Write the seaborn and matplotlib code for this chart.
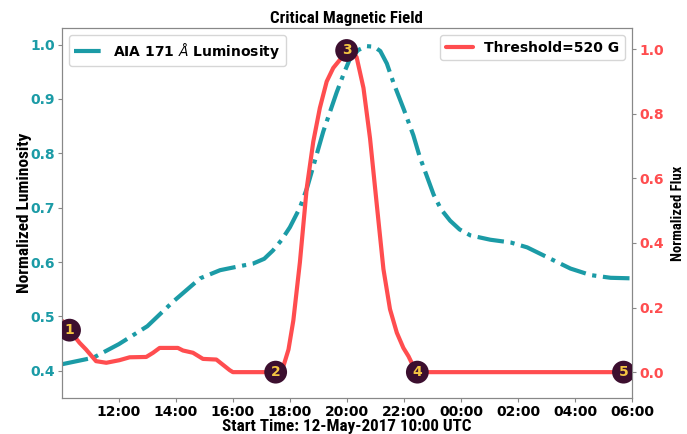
import matplotlib
matplotlib.use("Agg")
import matplotlib.pyplot as plt
import seaborn as sns
import pandas as pd

# hours since 12-May-2017 10:00 UTC
lum_hours = [0, 1.1, 2.0, 3.0, 3.9, 4.85, 5.55, 6.2, 6.7, 7.1, 7.4, 7.7, 8.0, 8.35, 8.6,
             9.17, 9.64, 9.9, 10.1, 10.4, 10.7, 10.95, 11.17, 11.4, 11.63, 12.0, 12.33,
             12.55, 13.04, 13.3, 13.62, 13.95, 14.33, 15.03, 15.74, 16.32, 17.02, 17.84,
             18.55, 19.25, 20.0]
luminosity = [0.412, 0.424, 0.449, 0.482, 0.527, 0.570, 0.585, 0.592, 0.597, 0.606, 0.621,
              0.640, 0.664, 0.700, 0.736, 0.840, 0.912, 0.948, 0.973, 0.990, 0.997, 0.996,
              0.988, 0.965, 0.930, 0.880, 0.833, 0.794, 0.724, 0.697, 0.676, 0.660,
              0.649, 0.641, 0.636, 0.627, 0.609, 0.588, 0.576, 0.571, 0.570]

flux_hours = [0, 0.27, 0.62, 0.85, 1.2, 1.56, 2.02, 2.38, 2.96, 3.2, 3.43, 4.07, 4.25,
              4.6, 4.95, 5.42, 5.89, 6.0, 7.5, 7.77, 7.95, 8.12, 8.35, 8.59, 8.82, 9.05,
              9.29, 9.52, 9.76, 9.99, 10.2, 10.34, 10.58, 10.81, 11.05, 11.28, 11.51,
              11.75, 11.98, 12.16, 12.33, 12.47, 20.0]
flux = [0.16, 0.13, 0.091, 0.07, 0.034, 0.029, 0.037, 0.046, 0.047, 0.06, 0.075, 0.075,
        0.067, 0.06, 0.041, 0.039, 0.006, 0.0, 0.0, 0.018, 0.07, 0.16, 0.34, 0.57, 0.714,
        0.818, 0.90, 0.942, 0.968, 0.996, 0.995, 0.975, 0.88, 0.724, 0.516, 0.319, 0.195,
        0.122, 0.075, 0.049, 0.018, 0.0, 0.0]

point_hours = [0.27, 7.5, 9.99, 12.47, 19.7]
point_flux = [0.13, 0.0, 0.996, 0.0, 0.0]
point_labels = ["1", "2", "3", "4", "5"]

tick_hours = [2, 4, 6, 8, 10, 12, 14, 16, 18, 20]
tick_labels = ["12:00", "14:00", "16:00", "18:00", "20:00", "22:00",
               "00:00", "02:00", "04:00", "06:00"]

TEAL = "#1b9ba6"
RED = "#ff4d4f"
DARK = "#3c0f2f"
GOLD = "#f4c542"
LABEL_FONT = ["Liberation Sans Narrow", "Roboto Condensed", "Roboto"]


def main():
    sns.set_style("ticks")
    plt.rcParams["font.family"] = ["DejaVu Sans"]
    plt.rcParams["text.color"] = "black"
    plt.rcParams["axes.labelcolor"] = "black"

    fig = plt.figure(figsize=(6.87, 4.34), dpi=100)
    ax = fig.add_axes([0.090, 0.083, 0.830, 0.852])
    ax2 = ax.twinx()

    lum_df = pd.DataFrame({"t": lum_hours, "v": luminosity})
    flux_df = pd.DataFrame({"t": flux_hours, "v": flux})
    pts_df = pd.DataFrame({"t": point_hours, "v": point_flux})

    sns.lineplot(data=lum_df, x="t", y="v", ax=ax, color=TEAL, linewidth=3,
                 linestyle="-.", label=r"AIA 171 $\AA$ Luminosity")
    sns.lineplot(data=flux_df, x="t", y="v", ax=ax2, color=RED, linewidth=3,
                 label="Threshold=520 G")
    sns.scatterplot(data=pts_df, x="t", y="v", ax=ax2, color=DARK, s=270,
                    edgecolor="none", zorder=5, legend=False)
    for t, v, lab in zip(point_hours, point_flux, point_labels):
        ax2.text(t, v, lab, color=GOLD, fontsize=10, fontweight="bold",
                 ha="center", va="center", zorder=6)

    ax.set_xlim(0, 20)
    ax.set_ylim(0.35, 1.03)
    ax2.set_ylim(-0.08, 1.065)
    ax.set_xticks(tick_hours)
    ax.set_xticklabels(tick_labels)
    ax.set_yticks([0.4, 0.5, 0.6, 0.7, 0.8, 0.9, 1.0])
    ax2.set_yticks([0.0, 0.2, 0.4, 0.6, 0.8, 1.0])

    for a in (ax, ax2):
        for s in a.spines.values():
            s.set_color("#888888")
        a.tick_params(colors="#888888", length=3, pad=2)
    for lab in ax.get_xticklabels():
        lab.set_color("black")
        lab.set_fontweight("bold")
        lab.set_fontsize(10)
    for lab in ax.get_yticklabels():
        lab.set_color(TEAL)
        lab.set_fontweight("bold")
        lab.set_fontsize(10)
    for lab in ax2.get_yticklabels():
        lab.set_color(RED)
        lab.set_fontweight("bold")
        lab.set_fontsize(10)

    ax.set_xlabel("Start Time: 12-May-2017 10:00 UTC", family=LABEL_FONT,
                  fontweight="bold", fontsize=12.3, labelpad=0)
    ax.set_ylabel("Normalized Luminosity", family=LABEL_FONT,
                  fontweight="bold", fontsize=12.5, labelpad=-1)
    ax2.set_ylabel("Normalized Flux", family=LABEL_FONT,
                   fontweight="bold", fontsize=10.5, labelpad=5)
    ax.set_title("Critical Magnetic Field", family=LABEL_FONT,
                 fontweight="bold", fontsize=12.2, pad=4)

    ax.legend(loc="upper left", prop={"weight": "bold", "size": 10})
    ax2.legend(loc="upper right", prop={"weight": "bold", "size": 10})

    fig.savefig("out.png", dpi=100)
    plt.close(fig)


if __name__ == "__main__":
    main()
